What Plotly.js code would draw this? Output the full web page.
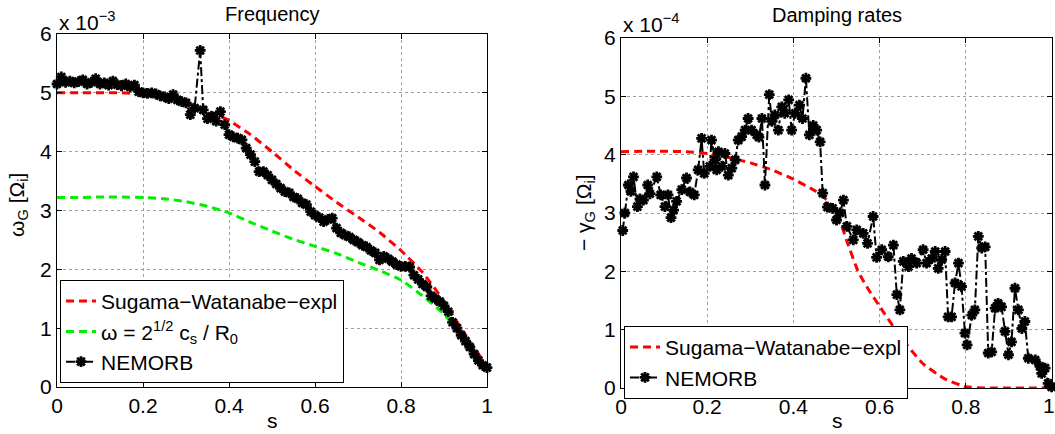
<!DOCTYPE html>
<html>
<head>
<meta charset="utf-8">
<script src="https://cdn.plot.ly/plotly-3.0.1.min.js"></script>
<style>
  html, body { margin: 0; padding: 0; background: #fff; }
  #chart { width: 1055px; height: 434px; }
</style>
</head>
<body>
<div id="chart"></div>
<script>
// ---------- Left panel: Frequency (values in units of 1e-3) ----------
const freqTheoryS = [0, 0.05, 0.1, 0.15, 0.2, 0.25, 0.3, 0.35, 0.4, 0.45, 0.5, 0.55, 0.6, 0.65, 0.7, 0.75, 0.8, 0.85, 0.9, 0.95, 1.0];
const freqSugama = [5.0, 5.0, 5.0, 5.0, 4.98, 4.94, 4.84, 4.7, 4.53, 4.29, 4.0, 3.69, 3.41, 3.14, 2.89, 2.63, 2.32, 1.95, 1.46, 0.88, 0.35];
const freqGam = [3.22, 3.22, 3.23, 3.23, 3.22, 3.2, 3.15, 3.07, 2.96, 2.8, 2.65, 2.51, 2.39, 2.27, 2.12, 1.98, 1.82, 1.55, 1.24, 0.8, 0.28];

const freqNemS = [0.00,0.01,0.02,0.03,0.04,0.05,0.06,0.07,0.08,0.09,0.10,0.11,0.12,0.13,0.14,0.15,0.16,0.17,0.18,0.19,
  0.20,0.21,0.22,0.23,0.24,0.25,0.26,0.27,0.28,0.29,0.30,0.31,0.32,0.333,0.34,0.35,0.36,0.37,0.38,0.39,
  0.40,0.41,0.42,0.43,0.44,0.45,0.46,0.47,0.48,0.49,0.50,0.51,0.52,0.53,0.54,0.55,0.56,0.57,0.58,0.59,
  0.60,0.61,0.62,0.63,0.64,0.65,0.66,0.67,0.68,0.69,0.70,0.71,0.72,0.73,0.74,0.75,0.76,0.77,0.78,0.79,
  0.80,0.81,0.82,0.83,0.84,0.85,0.86,0.87,0.88,0.89,0.90,0.91,0.92,0.93,0.94,0.95,0.96,0.97,0.98,0.99,1.00];
const freqNemorb = [5.15,5.27,5.18,5.2,5.17,5.19,5.22,5.15,5.18,5.24,5.15,5.17,5.13,5.2,5.14,5.12,5.15,5.1,5.13,5.02,
  5.0,4.99,5.0,4.98,4.95,4.93,4.9,4.97,4.88,4.85,4.83,4.63,4.74,5.72,4.71,4.56,4.6,4.52,4.68,4.46,
  4.29,4.25,4.23,4.2,4.06,3.95,3.83,3.66,3.66,3.6,3.52,3.45,3.38,3.32,3.3,3.23,3.2,3.13,3.1,2.98,
  2.92,2.88,2.81,2.85,2.87,2.7,2.62,2.58,2.55,2.5,2.46,2.41,2.38,2.32,2.28,2.16,2.22,2.18,2.13,2.08,
  2.05,2.05,2.04,1.9,1.83,1.75,1.7,1.55,1.5,1.45,1.38,1.28,1.1,1.0,0.88,0.78,0.68,0.56,0.45,0.37,0.33];

// ---------- Right panel: Damping rates (values in units of 1e-4) ----------
const dampTheoryS = [0, 0.05, 0.1, 0.15, 0.2, 0.25, 0.3, 0.35, 0.4, 0.45, 0.475, 0.5, 0.525, 0.55, 0.575, 0.6, 0.65, 0.7, 0.75, 0.8, 0.85, 0.9, 0.95, 1.0];
const dampSugama = [4.05, 4.06, 4.06, 4.05, 4.02, 3.95, 3.86, 3.74, 3.58, 3.38, 3.24, 3.02, 2.5, 2.0, 1.68, 1.4, 0.86, 0.42, 0.16, 0.02, 0, 0, 0, 0];

const dampNemS = [0.004,0.009,0.017,0.023,0.029,0.038,0.044,0.052,0.062,0.067,0.083,0.092,0.102,0.109,0.116,0.122,0.129,0.141,0.152,0.160,
  0.170,0.179,0.187,0.193,0.206,0.210,0.218,0.222,0.226,0.234,0.241,0.249,0.257,0.265,0.272,0.280,0.288,0.295,0.303,0.315,
  0.320,0.327,0.334,0.344,0.350,0.357,0.365,0.373,0.380,0.389,0.396,0.404,0.414,0.421,0.429,0.437,0.446,0.454,0.462,0.468,
  0.479,0.491,0.500,0.508,0.516,0.524,0.539,0.547,0.562,0.572,0.585,0.593,0.605,0.620,0.632,0.640,0.647,0.655,0.667,0.674,
  0.686,0.701,0.709,0.721,0.729,0.736,0.744,0.752,0.759,0.767,0.775,0.783,0.790,0.798,0.803,0.814,0.821,0.829,0.837,0.845,
  0.852,0.860,0.868,0.875,0.883,0.891,0.899,0.906,0.914,0.922,0.930,0.937,0.945,0.961,0.972,0.976,0.984,0.991,0.999];
const dampNemorb = [2.70,3.00,3.48,3.37,3.62,3.11,3.24,3.22,3.48,3.33,3.62,3.31,3.11,3.31,2.92,3.05,3.20,3.40,3.60,3.36,
  3.31,3.74,4.28,3.68,3.80,4.25,3.91,3.74,4.05,3.80,4.02,3.65,3.77,3.91,4.25,4.31,4.42,4.62,4.42,4.34,
  4.30,4.62,3.48,5.03,4.57,4.68,4.42,4.82,4.71,4.94,4.42,4.71,4.85,4.62,5.31,4.34,4.50,4.42,4.22,3.34,
  3.10,3.08,2.88,3.00,3.22,2.77,2.54,2.71,2.65,2.48,2.94,2.24,2.37,2.25,2.45,1.60,1.34,2.17,2.08,2.22,
  2.14,2.37,2.14,2.22,2.34,2.05,2.20,2.34,1.22,1.22,1.80,2.14,1.74,0.94,0.74,1.25,1.34,2.60,2.40,2.42,
  0.60,0.62,1.37,1.45,1.39,0.97,0.57,0.79,1.71,1.34,1.02,1.14,0.51,0.48,0.37,0.25,0.34,0.08,0.02];

const xTicks = [0, 0.2, 0.4, 0.6, 0.8, 1];
const xTickText = ['0', '0.2', '0.4', '0.6', '0.8', '1'];
const yTicks = [0, 1, 2, 3, 4, 5, 6];

const FONT = 'Liberation Sans, Arial, Helvetica, sans-serif';
const FS = 21;
const dashRed = {color: '#ff0000', width: 3, dash: '8px,5px', shape: 'spline', smoothing: 0.4};
const dashGreen = {color: '#00ee00', width: 3, dash: '8px,5px', shape: 'spline', smoothing: 0.4};
const nemMarker = {symbol: 'asterisk-open', size: 9, color: '#000', line: {color: '#000', width: 2.8}};
const nemLine = {color: '#000', width: 2, dash: 'dashdot'};

const traces = [
  {x: freqTheoryS, y: freqSugama, mode: 'lines', line: dashRed, name: 'Sugama\u2212Watanabe\u2212expl', xaxis: 'x', yaxis: 'y', legend: 'legend'},
  {x: freqTheoryS, y: freqGam, mode: 'lines', line: dashGreen, name: '\u03c9 = 2<sup>1/2</sup> c<sub>s</sub> / R<sub>0</sub>', xaxis: 'x', yaxis: 'y', legend: 'legend'},
  {x: freqNemS, y: freqNemorb, mode: 'lines+markers', line: nemLine, marker: nemMarker, name: 'NEMORB', xaxis: 'x', yaxis: 'y', legend: 'legend', cliponaxis: false},
  {x: dampTheoryS, y: dampSugama, mode: 'lines', line: dashRed, name: 'Sugama\u2212Watanabe\u2212expl', xaxis: 'x2', yaxis: 'y2', legend: 'legend2'},
  {x: dampNemS, y: dampNemorb, mode: 'lines+markers', line: nemLine, marker: nemMarker, name: 'NEMORB', xaxis: 'x2', yaxis: 'y2', legend: 'legend2', cliponaxis: false}
];

function axisStyle(extra) {
  return Object.assign({
    showline: true, linecolor: '#000', linewidth: 1, mirror: 'allticks',
    ticks: 'inside', ticklen: 5, tickcolor: '#000', tickwidth: 1,
    showgrid: true, gridcolor: '#a0a0a0', griddash: 'dot', gridwidth: 1,
    zeroline: false, tickfont: {family: FONT, size: FS, color: '#000'}
  }, extra);
}

const legendStyle = {
  bgcolor: '#fff', bordercolor: '#000', borderwidth: 1,
  font: {family: FONT, size: FS, color: '#000'},
  xanchor: 'left', yanchor: 'top', xref: 'paper', yref: 'paper',
  itemwidth: 30, tracegroupgap: 0
};

const ann = (text, x, y, extra) => Object.assign({text: text, x: x / 1055, y: 1 - y / 434, xref: 'paper', yref: 'paper',
  showarrow: false, xanchor: 'center', yanchor: 'middle', font: {family: FONT, size: FS, color: '#000'}}, extra || {});

const layout = {
  width: 1055, height: 434,
  margin: {l: 0, r: 0, t: 0, b: 0},
  paper_bgcolor: '#fff', plot_bgcolor: '#fff',
  showlegend: true,
  font: {family: FONT, size: FS, color: '#000'},
  xaxis: axisStyle({domain: [0.05403, 0.46161], range: [0, 1], tickvals: xTicks, ticktext: xTickText, anchor: 'y'}),
  yaxis: axisStyle({domain: [0.10829, 0.92166], range: [0, 6], tickvals: yTicks, anchor: 'x'}),
  xaxis2: axisStyle({domain: [0.58863, 0.99716], range: [0, 1], tickvals: xTicks, ticktext: xTickText, anchor: 'y2'}),
  yaxis2: axisStyle({domain: [0.10599, 0.91244], range: [0, 6], tickvals: yTicks, anchor: 'x2'}),
  legend: Object.assign({}, legendStyle, {x: 0.0569, y: 0.355}),
  legend2: Object.assign({}, legendStyle, {x: 0.5915, y: 0.249}),
  annotations: [
    ann('Frequency', 272, 14, {font: {family: FONT, size: 20, color: '#000'}}),
    ann('Damping rates', 837, 15, {font: {family: FONT, size: 20, color: '#000'}}),
    ann('x 10<sup>\u22123</sup>', 57, 6, {xanchor: 'left', yanchor: 'top'}),
    ann('x 10<sup>\u22124</sup>', 621, 8, {xanchor: 'left', yanchor: 'top'}),
    ann('1', 1049, 405),
    ann('s', 272, 420),
    ann('s', 837, 420),
    ann('\u03c9<sub>G</sub> [\u03a9<sub>i</sub>]', 18, 205, {textangle: -90}),
    ann('\u2212 \u03b3<sub>G</sub> [\u03a9<sub>i</sub>]', 585, 213, {textangle: -90})
  ]
};

Plotly.newPlot('chart', traces, layout, {staticPlot: true, displayModeBar: false});
</script>
</body>
</html>
